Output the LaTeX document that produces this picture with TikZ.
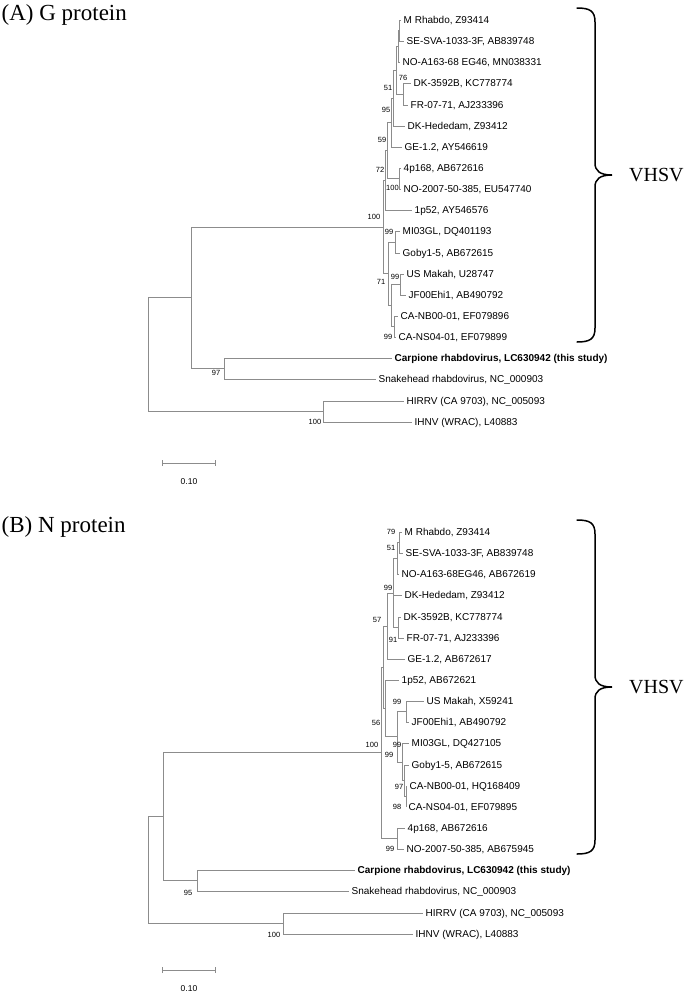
\documentclass[tikz,border=0pt]{standalone}
\usepackage{fontspec}
\setmainfont{Liberation Serif}
\setsansfont{Liberation Sans}
\usetikzlibrary{arrows.meta}

\begin{document}
\begin{tikzpicture}[x=1pt, y=-1pt,
    branch/.style={draw=black!45, line width=0.8pt},
    taxon/.style={font=\sffamily\fontsize{10}{12}\selectfont, anchor=west, inner xsep=2.5pt, inner ysep=0pt, text height=7pt, text depth=0pt},
    thisstudy/.style={taxon, font=\sffamily\bfseries\fontsize{10}{12}\selectfont},
    boot/.style={font=\sffamily\fontsize{7.5}{9}\selectfont, inner sep=0pt},
    paneltitle/.style={font=\fontsize{23}{26}\selectfont, anchor=base west, inner sep=0pt},
    clade/.style={font=\fontsize{20}{24}\selectfont, anchor=west, inner sep=0pt},
    cladebrace/.style={line width=1.5pt, line cap=round},
    scalebar/.style={draw=black!45, line width=0.8pt, {Bar[width=6pt]}-{Bar[width=6pt]}},
]
\useasboundingbox (0,0) rectangle (685,994);

% (A) G protein
\node[paneltitle] (titleA) at (1.5,20) {(A) G protein};

\node[taxon] (aMR) at (401,20) {M Rhabdo, Z93414};
\node[taxon] (aSE) at (404,41) {SE-SVA-1033-3F, AB839748};
\node[taxon] (aNO) at (400,62) {NO-A163-68 EG46, MN038331};
\node[taxon] (aDK) at (411,83) {DK-3592B, KC778774};
\node[taxon] (aFR) at (408,105) {FR-07-71, AJ233396};
\node[taxon] (aDKH) at (405,126) {DK-Hededam, Z93412};
\node[taxon] (aGE) at (402,147) {GE-1.2, AY546619};
\node[taxon] (a4p) at (401,168) {4p168, AB672616};
\node[taxon] (aNOs) at (401,189) {NO-2007-50-385, EU547740};
\node[taxon] (a1p) at (412,210) {1p52, AY546576};
\node[taxon] (aMI) at (400,231) {MI03GL, DQ401193};
\node[taxon] (aGO) at (400,253) {Goby1-5, AB672615};
\node[taxon] (aUS) at (404,274) {US Makah, U28747};
\node[taxon] (aJF) at (406,295) {JF00Ehi1, AB490792};
\node[taxon] (aNB) at (398,316) {CA-NB00-01, EF079896};
\node[taxon] (aNS) at (396,337) {CA-NS04-01, EF079899};
\node[thisstudy] (aCR) at (392,358) {Carpione rhabdovirus, LC630942 (this study)};
\node[taxon] (aSH) at (376,379) {Snakehead rhabdovirus, NC\_000903};
\node[taxon] (aHI) at (404,401) {HIRRV (CA 9703), NC\_005093};
\node[taxon] (aIH) at (412,422) {IHNV (WRAC), L40883};

\coordinate (ams) at (399,30.5);
\coordinate (amn) at (398,46.25);
\coordinate (a76) at (403,94);
\coordinate (a51) at (396,70.1);
\coordinate (a95) at (393,98);
\coordinate (a59) at (391,122.5);
\coordinate (aIII) at (399,178.5);
\coordinate (a72) at (387,150.5);
\coordinate (aI) at (385,180.25);
\coordinate (aMG) at (395,242);
\coordinate (aUJ) at (400,284.5);
\coordinate (aCA) at (394,326.5);
\coordinate (aUC) at (391,305.5);
\coordinate (a71) at (388,273.75);
\coordinate (aV) at (383,227);
\coordinate (aCS) at (224,368.5);
\coordinate (ar1) at (191,297.75);
\coordinate (aHN) at (323,411.5);
\coordinate (aroot) at (148,354.6);

\draw[branch] (ams) |- (aMR.west) (ams) |- (aSE.west);
\draw[branch] (amn) |- (ams) (amn) |- (aNO.west);
\draw[branch] (a76) |- (aDK.west) (a76) |- (aFR.west);
\draw[branch] (a51) |- (amn) (a51) |- (a76);
\draw[branch] (a95) |- (a51) (a95) |- (aDKH.west);
\draw[branch] (a59) |- (a95) (a59) |- (aGE.west);
\draw[branch] (aIII) |- (a4p.west) (aIII) |- (aNOs.west);
\draw[branch] (a72) |- (a59) (a72) |- (aIII);
\draw[branch] (aI) |- (a72) (aI) |- (a1p.west);
\draw[branch] (aMG) |- (aMI.west) (aMG) |- (aGO.west);
\draw[branch] (aUJ) |- (aUS.west) (aUJ) |- (aJF.west);
\draw[branch] (aCA) |- (aNB.west) (aCA) |- (aNS.west);
\draw[branch] (aUC) |- (aUJ) (aUC) |- (aCA);
\draw[branch] (a71) |- (aMG) (a71) |- (aUC);
\draw[branch] (aV) |- (aI) (aV) |- (a71);
\draw[branch] (aCS) |- (aCR.west) (aCS) |- (aSH.west);
\draw[branch] (ar1) |- (aV) (ar1) |- (aCS);
\draw[branch] (aHN) |- (aHI.west) (aHN) |- (aIH.west);
\draw[branch] (aroot) |- (ar1) (aroot) |- (aHN);

% bootstrap values
\node[boot] (bsA76) at (403,78) {76};
\node[boot] (bsA51) at (388,88) {51};
\node[boot] (bsA95) at (386,110) {95};
\node[boot] (bsA59) at (382,140) {59};
\node[boot] (bsA72) at (380,170) {72};
\node[boot] (bsAIII) at (392.5,188) {100};
\node[boot] (bsAV) at (374,217) {100};
\node[boot] (bsAMG) at (389,232) {99};
\node[boot] (bsAUJ) at (395,277) {99};
\node[boot] (bsA71) at (381,282) {71};
\node[boot] (bsACA) at (388,337) {99};
\node[boot] (bsACS) at (216,373) {97};
\node[boot] (bsAHN) at (315,422) {100};

% VHSV brace
\draw[cladebrace] (577,8) .. controls (590,8) and (595,11) .. (595,22) -- (595,163)
    .. controls (595,171) and (600,175) .. (612,175)
    .. controls (600,175) and (595,179) .. (595,187) -- (595,328)
    .. controls (595,339) and (590,342) .. (577,342);
\node[clade] (vhsvA) at (629,175) {VHSV};

\coordinate (sbA0) at (162,463);
\coordinate (sbA1) at (216,463);
\draw[scalebar] (sbA0) -- (sbA1);
\node[boot, font=\sffamily\fontsize{8.5}{10}\selectfont] (sbAlab) at (189,482) {0.10};

% (B) N protein
\node[paneltitle] (titleB) at (1.5,532) {(B) N protein};

\node[taxon] (bMR) at (402,532) {M Rhabdo, Z93414};
\node[taxon] (bSE) at (403,553) {SE-SVA-1033-3F, AB839748};
\node[taxon] (bNO) at (399,574) {NO-A163-68EG46, AB672619};
\node[taxon] (bDKH) at (402,595) {DK-Hededam, Z93412};
\node[taxon] (bDK) at (401,617) {DK-3592B, KC778774};
\node[taxon] (bFR) at (404,638) {FR-07-71, AJ233396};
\node[taxon] (bGE) at (405,659) {GE-1.2, AB672617};
\node[taxon] (b1p) at (399,680) {1p52, AB672621};
\node[taxon] (bUS) at (424,701) {US Makah, X59241};
\node[taxon] (bJF) at (409,722) {JF00Ehi1, AB490792};
\node[taxon] (bMI) at (409,743) {MI03GL, DQ427105};
\node[taxon] (bGO) at (409,765) {Goby1-5, AB672615};
\node[taxon] (bNB) at (407,786) {CA-NB00-01, HQ168409};
\node[taxon] (bNS) at (406,807) {CA-NS04-01, EF079895};
\node[taxon] (b4p) at (405,828) {4p168, AB672616};
\node[taxon] (bNOs) at (404,849) {NO-2007-50-385, AB675945};
\node[thisstudy] (bCR) at (355,870) {Carpione rhabdovirus, LC630942 (this study)};
\node[taxon] (bSH) at (349,891) {Snakehead rhabdovirus, NC\_000903};
\node[taxon] (bHI) at (423,913) {HIRRV (CA 9703), NC\_005093};
\node[taxon] (bIH) at (413,934) {IHNV (WRAC), L40883};

\coordinate (bms) at (399,542.5);
\coordinate (b51) at (397,558.25);
\coordinate (b91) at (398,627.5);
\coordinate (b99) at (393,592.9);
\coordinate (b57) at (387,625.9);
\coordinate (bUJ) at (406,711.5);
\coordinate (b97) at (406,796.5);
\coordinate (b98) at (404,780.75);
\coordinate (bMG) at (402,761.9);
\coordinate (bIV) at (397,736.7);
\coordinate (b56) at (385,708.35);
\coordinate (bX) at (383,667.1);
\coordinate (bIII) at (397,838.5);
\coordinate (bV) at (381,752.8);
\coordinate (bCS) at (197,880.5);
\coordinate (br1) at (163,816.65);
\coordinate (bHN) at (283,923.5);
\coordinate (broot) at (148,870.1);

\draw[branch] (bms) |- (bMR.west) (bms) |- (bSE.west);
\draw[branch] (b51) |- (bms) (b51) |- (bNO.west);
\draw[branch] (b91) |- (bDK.west) (b91) |- (bFR.west);
\draw[branch] (b99) |- (b51) (b99) |- (bDKH.west) (b99) |- (b91);
\draw[branch] (b57) |- (b99) (b57) |- (bGE.west);
\draw[branch] (bUJ) |- (bUS.west) (bUJ) |- (bJF.west);
\draw[branch] (b97) |- (bNB.west) (b97) |- (bNS.west);
\draw[branch] (b98) |- (bGO.west) (b98) |- (b97);
\draw[branch] (bMG) |- (bMI.west) (bMG) |- (b98);
\draw[branch] (bIV) |- (bUJ) (bIV) |- (bMG);
\draw[branch] (b56) |- (b1p.west) (b56) |- (bIV);
\draw[branch] (bX) |- (b57) (bX) |- (b56);
\draw[branch] (bIII) |- (b4p.west) (bIII) |- (bNOs.west);
\draw[branch] (bV) |- (bX) (bV) |- (bIII);
\draw[branch] (bCS) |- (bCR.west) (bCS) |- (bSH.west);
\draw[branch] (br1) |- (bV) (br1) |- (bCS);
\draw[branch] (bHN) |- (bHI.west) (bHN) |- (bIH.west);
\draw[branch] (broot) |- (br1) (broot) |- (bHN);

% bootstrap values
\node[boot] (bsB79) at (391,532) {79};
\node[boot] (bsB51) at (391,548) {51};
\node[boot] (bsB99) at (388,588) {99};
\node[boot] (bsB57) at (377,620) {57};
\node[boot] (bsB91) at (393,640) {91};
\node[boot] (bsBUJ) at (397,702) {99};
\node[boot] (bsB56) at (376,723) {56};
\node[boot] (bsBV) at (372,745) {100};
\node[boot] (bsBMG) at (397,745) {99};
\node[boot] (bsBIV) at (389,755) {99};
\node[boot] (bsB97) at (399,787) {97};
\node[boot] (bsB98) at (397,807) {98};
\node[boot] (bsBIII) at (390,849) {99};
\node[boot] (bsBCS) at (188,893) {95};
\node[boot] (bsBHN) at (274,935) {100};

% VHSV brace
\draw[cladebrace] (577,520) .. controls (590,520) and (595,523) .. (595,534) -- (595,675)
    .. controls (595,683) and (600,687) .. (612,687)
    .. controls (600,687) and (595,691) .. (595,699) -- (595,840)
    .. controls (595,851) and (590,854) .. (577,854);
\node[clade] (vhsvB) at (629,687) {VHSV};

\coordinate (sbB0) at (162,970);
\coordinate (sbB1) at (216,970);
\draw[scalebar] (sbB0) -- (sbB1);
\node[boot, font=\sffamily\fontsize{8.5}{10}\selectfont] (sbBlab) at (189,989) {0.10};
\end{tikzpicture}
\end{document}
